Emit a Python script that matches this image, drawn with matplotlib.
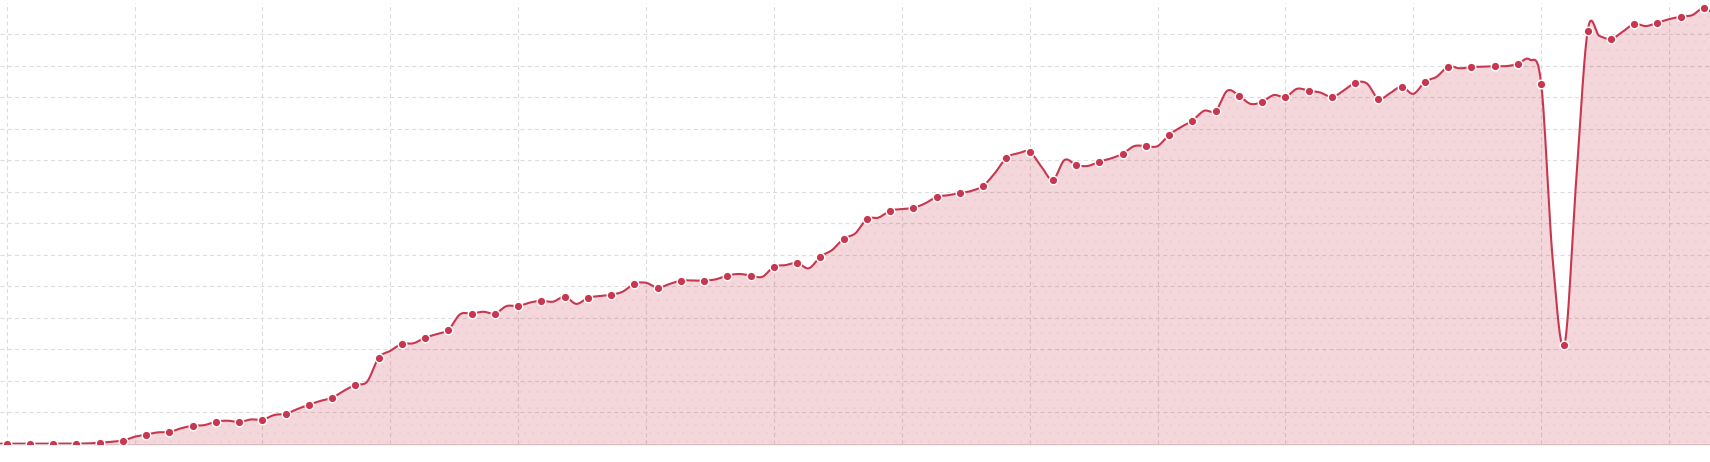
import numpy as np
import matplotlib
matplotlib.use("Agg")
import matplotlib.pyplot as plt

# *** marker values ***
values = [
    0.00, 0.00, 0.00, 0.00, 0.03, 0.10, 0.29, 0.37, 0.57, 0.70,
    0.69, 0.76, 0.95, 1.24, 1.46, 1.87, 2.73, 3.17, 3.37, 3.62,
    4.13, 4.13, 4.37, 4.54, 4.67, 4.63, 4.73, 5.08, 4.95, 5.18,
    5.18, 5.34, 5.34, 5.62, 5.74, 5.94, 6.51, 7.14, 7.40, 7.49,
    7.84, 7.96, 8.19, 9.08, 9.27, 8.38, 8.85, 8.96, 9.21, 9.45,
    9.81, 10.26, 10.57, 11.05, 10.86, 11.01, 11.21, 11.01, 11.46, 10.95,
    11.34, 11.49, 11.97, 11.96, 11.99, 12.06, 11.43, 3.14, 13.12, 12.85,
    13.33, 13.37, 13.56, 13.84, 13.50,
]
# *** line values halfway between markers (the line is denser than the dots) ***
mid_values = [
    0.00, 0.00, 0.00, 0.01, 0.06, 0.22, 0.36, 0.49, 0.59, 0.73,
    0.77, 0.91, 1.10, 1.36, 1.68, 1.97, 2.95, 3.19, 3.48, 4.11,
    4.19, 4.37, 4.48, 4.51, 4.44, 4.69, 4.83, 5.11, 5.07, 5.18,
    5.22, 5.39, 5.30, 5.67, 5.57, 6.15, 6.68, 7.18, 7.45, 7.63,
    7.89, 8.03, 8.59, 9.22, 8.80, 9.01, 8.82, 9.06, 9.45, 9.45,
    10.05, 10.57, 11.21, 10.79, 11.07, 11.27, 11.15, 11.21, 11.44, 11.13,
    11.11, 11.65, 11.92, 11.97, 11.99, 12.20, 5.80, 8.30, 12.95, 13.08,
    13.26, 13.48, 13.61, 13.60,
]
grid_step_x = 5.5
y_ticks = list(range(1, 14))

LINE_COLOR = "#c8374f"
GRID_COLOR = "#dcdcdc"

y = np.array(values, dtype=float)
x = np.arange(len(y), dtype=float)

# interleave markers and midpoints for the line
line_y = np.empty(len(y) + len(mid_values))
line_y[0::2] = y
line_y[1::2] = mid_values
line_x = np.arange(len(line_y)) * 0.5


# *** catmull-rom smoothing for the drawn line ***
def catmull_rom(xs, ys, n=20):
    pad = np.concatenate([[ys[0]], ys, [ys[-1]]])
    out_x, out_y = [], []
    for i in range(len(ys) - 1):
        p0, p1, p2, p3 = pad[i], pad[i + 1], pad[i + 2], pad[i + 3]
        m1 = (p2 - p0) / 2
        m2 = (p3 - p1) / 2
        t = np.linspace(0, 1, n, endpoint=False)
        h00 = 2 * t**3 - 3 * t**2 + 1
        h10 = t**3 - 2 * t**2 + t
        h01 = -2 * t**3 + 3 * t**2
        h11 = t**3 - t**2
        out_x.append(xs[i] + t * (xs[i + 1] - xs[i]))
        out_y.append(h00 * p1 + h10 * m1 + h01 * p2 + h11 * m2)
    out_x.append([xs[-1]])
    out_y.append([ys[-1]])
    return np.concatenate(out_x), np.concatenate(out_y)


sx, sy = catmull_rom(line_x, line_y)
# extend flat to the left edge
sx = np.concatenate([[-1.0], sx])
sy = np.concatenate([[line_y[0]], sy])

W, H, DPI = 1710, 462, 100
fig = plt.figure(figsize=(W / DPI, H / DPI), dpi=DPI)
bottom_px = 18.3
top_px = 2.8
ax = fig.add_axes([0, bottom_px / H, 1, (H - bottom_px - top_px) / H])

unit_x = 23.25
left_px = 6.7
ax.set_xlim(-left_px / unit_x, (W - left_px) / unit_x)
ax.set_ylim(0, 14)

# grid
ax.set_xticks(np.arange(0, ax.get_xlim()[1], grid_step_x))
ax.set_yticks(y_ticks)
ax.grid(True, color=GRID_COLOR, linewidth=0.8, linestyle=(0, (3.6, 2.9)), zorder=0)
ax.set_axisbelow(True)
ax.tick_params(length=0, labelbottom=False, labelleft=False)
for side in ["top", "left", "right"]:
    ax.spines[side].set_visible(False)
ax.spines["bottom"].set_color("#d6bcc3")
ax.spines["bottom"].set_linewidth(1.0)
ax.spines["bottom"].set_zorder(3)

# area + faint dotted texture
ax.fill_between(sx, sy, 0, color=LINE_COLOR, alpha=0.2, linewidth=0, zorder=1)
plt.rcParams["hatch.linewidth"] = 0.5
ax.fill_between(sx, sy, 0, facecolor="none", edgecolor=(0.78, 0.22, 0.31, 0.05),
                hatch="..", linewidth=0, zorder=1)

ax.plot(sx, sy, color=LINE_COLOR, linewidth=1.5, zorder=4, solid_capstyle="round")
ax.plot(x, y, linestyle="none", marker="o", markersize=6.2,
        markerfacecolor=LINE_COLOR, markeredgecolor="white", markeredgewidth=1.0,
        zorder=5)

fig.savefig("out.png", dpi=DPI)
plt.close(fig)
